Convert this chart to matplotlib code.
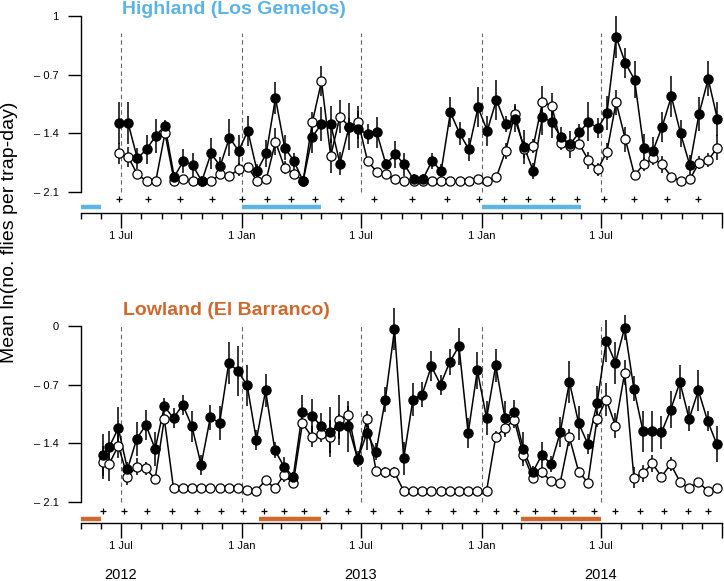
import datetime as dt
import pandas as pd
import matplotlib
matplotlib.use('Agg')
import matplotlib.pyplot as plt
import matplotlib.dates as mdates

plt.rcParams['font.family'] = ['Liberation Sans', 'DejaVu Sans']

# sampling dates (fortnightly traps)
high_dates = pd.date_range('2012-06-28', periods=66, freq='14D')
low_dates = pd.DatetimeIndex(['2012-06-03', '2012-06-13']).append(
    pd.date_range('2012-06-27', periods=66, freq='14D'))

high_black = [-1.28, -1.28, -1.70, -1.59, -1.43, -1.31, -1.92, -1.73, -1.78, -1.97,
              -1.64, -1.79, -1.45, -1.61, -1.37, -1.85, -1.64, -0.98, -1.57, -1.73,
              -1.97, -1.44, -1.29, -1.29, -1.76, -1.32, -1.35, -1.41, -1.39, -1.77,
              -1.65, -1.77, -1.95, -1.95, -1.73, -1.85, -1.15, -1.40, -1.59, -1.09,
              -1.37, -1.00, -1.29, -1.23, -1.56, -1.85, -1.20, -1.27, -1.44, -1.53,
              -1.39, -1.26, -1.34, -1.16, -0.25, -0.56, -0.76, -1.57, -1.61, -1.32,
              -0.96, -1.40, -1.78, -1.17, -0.75, -1.23]
high_black_err = [0.25, 0.25, 0.12, 0.17, 0.20, 0.07, 0.06, 0.14, 0.14, 0.04,
                  0.18, 0.11, 0.22, 0.19, 0.18, 0.08, 0.16, 0.19, 0.15, 0.10,
                  0.06, 0.20, 0.20, 0.22, 0.14, 0.28, 0.22, 0.12, 0.18, 0.06,
                  0.16, 0.14, 0.06, 0.06, 0.10, 0.08, 0.18, 0.14, 0.14, 0.24,
                  0.18, 0.24, 0.10, 0.16, 0.20, 0.10, 0.22, 0.18, 0.12, 0.16,
                  0.10, 0.23, 0.12, 0.20, 0.25, 0.18, 0.22, 0.16, 0.17, 0.18,
                  0.24, 0.16, 0.12, 0.20, 0.21, 0.20]
high_white = [-1.64, -1.68, -1.89, -1.97, -1.97, -1.40, -1.97, -1.95, -1.97, -1.97,
              -1.97, -1.89, -1.91, -1.83, -1.80, -1.97, -1.95, -1.50, -1.81, -1.88,
              -1.97, -1.27, -0.78, -1.67, -1.20, -1.32, -1.27, -1.73, -1.86, -1.89,
              -1.95, -1.97, -1.97, -1.97, -1.97, -1.97, -1.97, -1.97, -1.97, -1.95,
              -1.97, -1.92, -1.61, -1.17, -1.59, -1.55, -1.03, -1.07, -1.52, -1.55,
              -1.53, -1.72, -1.83, -1.62, -1.03, -1.47, -1.90, -1.77, -1.70, -1.77,
              -1.92, -1.97, -1.95, -1.75, -1.72, -1.57]
high_white_err = [0.12, 0.12, 0.04, 0, 0, 0.05, 0, 0.03, 0, 0,
                  0, 0.06, 0.04, 0.08, 0.05, 0, 0.03, 0.16, 0.08, 0.05,
                  0, 0.12, 0.18, 0.20, 0.20, 0.10, 0.20, 0.05, 0.03, 0.03,
                  0, 0, 0, 0, 0, 0, 0, 0, 0, 0.03,
                  0, 0.04, 0.10, 0.12, 0.10, 0.08, 0.20, 0.15, 0.08, 0.06,
                  0.06, 0.10, 0.08, 0.10, 0.15, 0.15, 0.05, 0.08, 0.06, 0.10,
                  0.04, 0, 0.03, 0.08, 0.08, 0.15]

low_black = [-1.54, -1.45, -1.22, -1.71, -1.35, -1.18, -1.47, -0.96, -1.10, -0.94,
             -1.20, -1.66, -1.09, -1.16, -0.44, -0.54, -0.71, -1.36, -0.77, -1.48,
             -1.68, -1.80, -1.03, -1.07, -1.19, -1.27, -1.20, -1.20, -1.59, -1.28,
             -1.50, -0.88, -0.04, -1.58, -0.88, -0.82, -0.48, -0.70, -0.43, -0.24,
             -1.28, -0.53, -1.10, -0.47, -1.10, -1.03, -1.47, -1.75, -1.54, -1.65,
             -1.27, -0.67, -1.16, -1.41, -0.92, -0.18, -0.44, -0.02, -0.75, -1.26,
             -1.26, -1.27, -1.00, -0.67, -1.11, -0.77, -1.13, -1.41]
low_black_err = [0.25, 0.20, 0.25, 0.08, 0.20, 0.18, 0.20, 0.10, 0.12, 0.12,
                 0.18, 0.12, 0.15, 0.20, 0.25, 0.30, 0.25, 0.12, 0.20, 0.10,
                 0.12, 0.06, 0.20, 0.20, 0.15, 0.30, 0.15, 0.30, 0.10, 0.20,
                 0.10, 0.15, 0.25, 0.20, 0.20, 0.15, 0.18, 0.12, 0.15, 0.22,
                 0.18, 0.22, 0.20, 0.20, 0.20, 0.15, 0.20, 0.08, 0.15, 0.10,
                 0.18, 0.25, 0.20, 0.12, 0.20, 0.25, 0.25, 0.15, 0.15, 0.25,
                 0.25, 0.20, 0.22, 0.20, 0.15, 0.25, 0.12, 0.22]
low_white = [-1.63, -1.65, -1.43, -1.80, -1.68, -1.70, -1.83, -1.11, -1.94, -1.94,
             -1.94, -1.94, -1.94, -1.94, -1.94, -1.94, -1.96, -1.97, -1.84, -1.94,
             -1.78, -1.88, -1.16, -1.32, -1.29, -1.32, -1.12, -1.06, -1.60, -1.11,
             -1.73, -1.75, -1.75, -1.97, -1.97, -1.97, -1.97, -1.97, -1.97, -1.97,
             -1.97, -1.97, -1.97, -1.32, -1.22, -1.12, -1.54, -1.81, -1.75, -1.85,
             -1.87, -1.33, -1.74, -1.87, -1.11, -0.88, -1.19, -0.56, -1.81, -1.76,
             -1.64, -1.80, -1.65, -1.86, -1.94, -1.86, -1.97, -1.94]
low_white_err = [0.20, 0.20, 0.15, 0.10, 0.10, 0.08, 0.05, 0.05, 0, 0,
                 0, 0, 0, 0, 0, 0, 0, 0, 0.03, 0,
                 0.08, 0.05, 0.06, 0.12, 0.10, 0.20, 0.30, 0.10, 0.05, 0.10,
                 0.05, 0.06, 0.06, 0, 0, 0, 0, 0, 0, 0,
                 0, 0, 0, 0.06, 0.10, 0.10, 0.08, 0.05, 0.06, 0.05,
                 0.03, 0.10, 0.05, 0.03, 0.10, 0.20, 0.15, 0.15, 0.12, 0.10,
                 0.10, 0.05, 0.08, 0.05, 0, 0.05, 0, 0]

# '+' marks under each panel
high_plus = ['2012-06-28', '2012-08-11', '2012-09-29', '2012-11-17', '2013-01-01',
             '2013-02-08', '2013-03-16', '2013-04-22', '2013-06-01', '2013-07-21',
             '2013-09-16', '2013-11-09', '2013-12-28', '2014-02-03', '2014-03-12',
             '2014-04-18', '2014-05-25', '2014-07-05', '2014-08-20', '2014-10-09',
             '2014-11-25']
low_plus = ['2012-06-03', '2012-07-06', '2012-08-10', '2012-09-17', '2012-10-24',
            '2012-11-30', '2013-01-03', '2013-02-03', '2013-03-06', '2013-04-06',
            '2013-05-09', '2013-06-11', '2013-07-20', '2013-08-29', '2013-10-11',
            '2013-11-18', '2013-12-23', '2014-01-23', '2014-02-22', '2014-03-22',
            '2014-04-20', '2014-05-20', '2014-06-21', '2014-07-22', '2014-08-30',
            '2014-10-05', '2014-11-11', '2014-12-11']

# coloured season bars
high_bars = [('2012-05-01', '2012-06-01'), ('2013-01-01', '2013-05-01'),
             ('2014-01-01', '2014-06-01')]
low_bars = [('2012-05-01', '2012-06-01'), ('2013-01-27', '2013-05-01'),
            ('2014-03-01', '2014-07-01')]

dash_dates = ['2012-07-01', '2013-01-01', '2013-07-01', '2014-01-01', '2014-07-01']
major_dates = ['2012-07-01', '2013-01-01', '2013-07-01', '2014-01-01', '2014-07-01',
               '2015-01-01']
major_labels = ['1 Jul', '1 Jan', '1 Jul', '1 Jan', '1 Jul', '']
ytick_vals = [0, -0.7, -1.4, -2.1]
years = ['2012', '2013', '2014']
year_dates = ['2012-07-01', '2013-07-01', '2014-07-01']

blue = '#5cb4e2'
orange = '#d0692e'

W, H = 724, 581
fig = plt.figure(figsize=(7.24, 5.81), dpi=100)


def panel(ax, ylim, top_label, dates, black, black_err, white, white_err,
          plus, plus_y, bars, bar_y, color, dash_top):
    tdates = pd.to_datetime(dates)
    ax.set_xlim(dt.date(2012, 5, 1), dt.date(2015, 1, 1))
    ax.set_ylim(*ylim)

    ax.vlines(pd.to_datetime(dash_dates), -2.1, dash_top, colors='0.4',
              linestyles=(0, (4, 3)), lw=0.8, zorder=1)

    for vals, err, face in [(white, white_err, 'white'), (black, black_err, 'black')]:
        ax.errorbar(tdates, vals, yerr=err, fmt='none', ecolor='black',
                    elinewidth=1.1, capsize=0, zorder=2)
        ax.plot(tdates, vals, '-', color='black', lw=1.1, zorder=3)
        ax.plot(tdates, vals, 'o', ms=6.6, mfc=face, mec='black', mew=0.9,
                zorder=4 if face == 'white' else 5, clip_on=False)

    ax.plot(pd.to_datetime(plus), [plus_y] * len(plus), '+', color='black',
            ms=5, mew=0.9, clip_on=False)
    for b0, b1 in bars:
        ax.hlines(bar_y, pd.Timestamp(b0), pd.Timestamp(b1), colors=color,
                  lw=3.2, clip_on=False)

    for s in ['top', 'right']:
        ax.spines[s].set_visible(False)
    ax.spines['left'].set_bounds(-2.1, 0)
    ax.spines['left'].set_linewidth(1.0)
    ax.spines['bottom'].set_linewidth(1.0)

    ax.set_yticks(ytick_vals)
    ax.set_yticklabels([top_label, '\u2013 0.7', '\u2013 1.4', '\u2013 2.1'])
    ax.tick_params(axis='y', length=9.4, width=1.0, pad=6.5, labelsize=8)

    ax.set_xticks(pd.to_datetime(major_dates))
    ax.set_xticklabels(major_labels)
    ax.xaxis.set_minor_locator(mdates.MonthLocator())
    ax.tick_params(axis='x', which='major', length=10.5, width=1.0, pad=2.5,
                   labelsize=8)
    ax.tick_params(axis='x', which='minor', length=4.3, width=1.0)


ax_high = fig.add_axes([80.8 / W, 1 - 212.7 / H, 641.2 / W, 212.7 / H])
panel(ax_high, (-2.347, 0.191), '1', high_dates, high_black, high_black_err,
      high_white, high_white_err, high_plus, -2.184, high_bars, -2.279, blue, -0.2)

ax_low = fig.add_axes([80.8 / W, 1 - 523.3 / H, 641.2 / W, 223.3 / H])
panel(ax_low, (-2.357, 0.311), '0', low_dates, low_black, low_black_err,
      low_white, low_white_err, low_plus, -2.207, low_bars, -2.306, orange, 0)

fig.text(121.7 / W, 1 - 14 / H, 'Highland (Los Gemelos)', color=blue,
         fontsize=14, fontweight='bold', va='baseline', ha='left')
fig.text(123.3 / W, 1 - 315 / H, 'Lowland (El Barranco)', color=orange,
         fontsize=14, fontweight='bold', va='baseline', ha='left')

fig.text(10 / W, 1 - 232 / H, 'Mean ln(no. flies per trap-day)', rotation=90,
         ha='center', va='center', fontsize=14)

for yr, d in zip(years, year_dates):
    ax_low.text(pd.Timestamp(d), -0.2315, yr, transform=ax_low.get_xaxis_transform(),
                ha='center', va='center', fontsize=10.5)

fig.savefig('out.png', dpi=100)
